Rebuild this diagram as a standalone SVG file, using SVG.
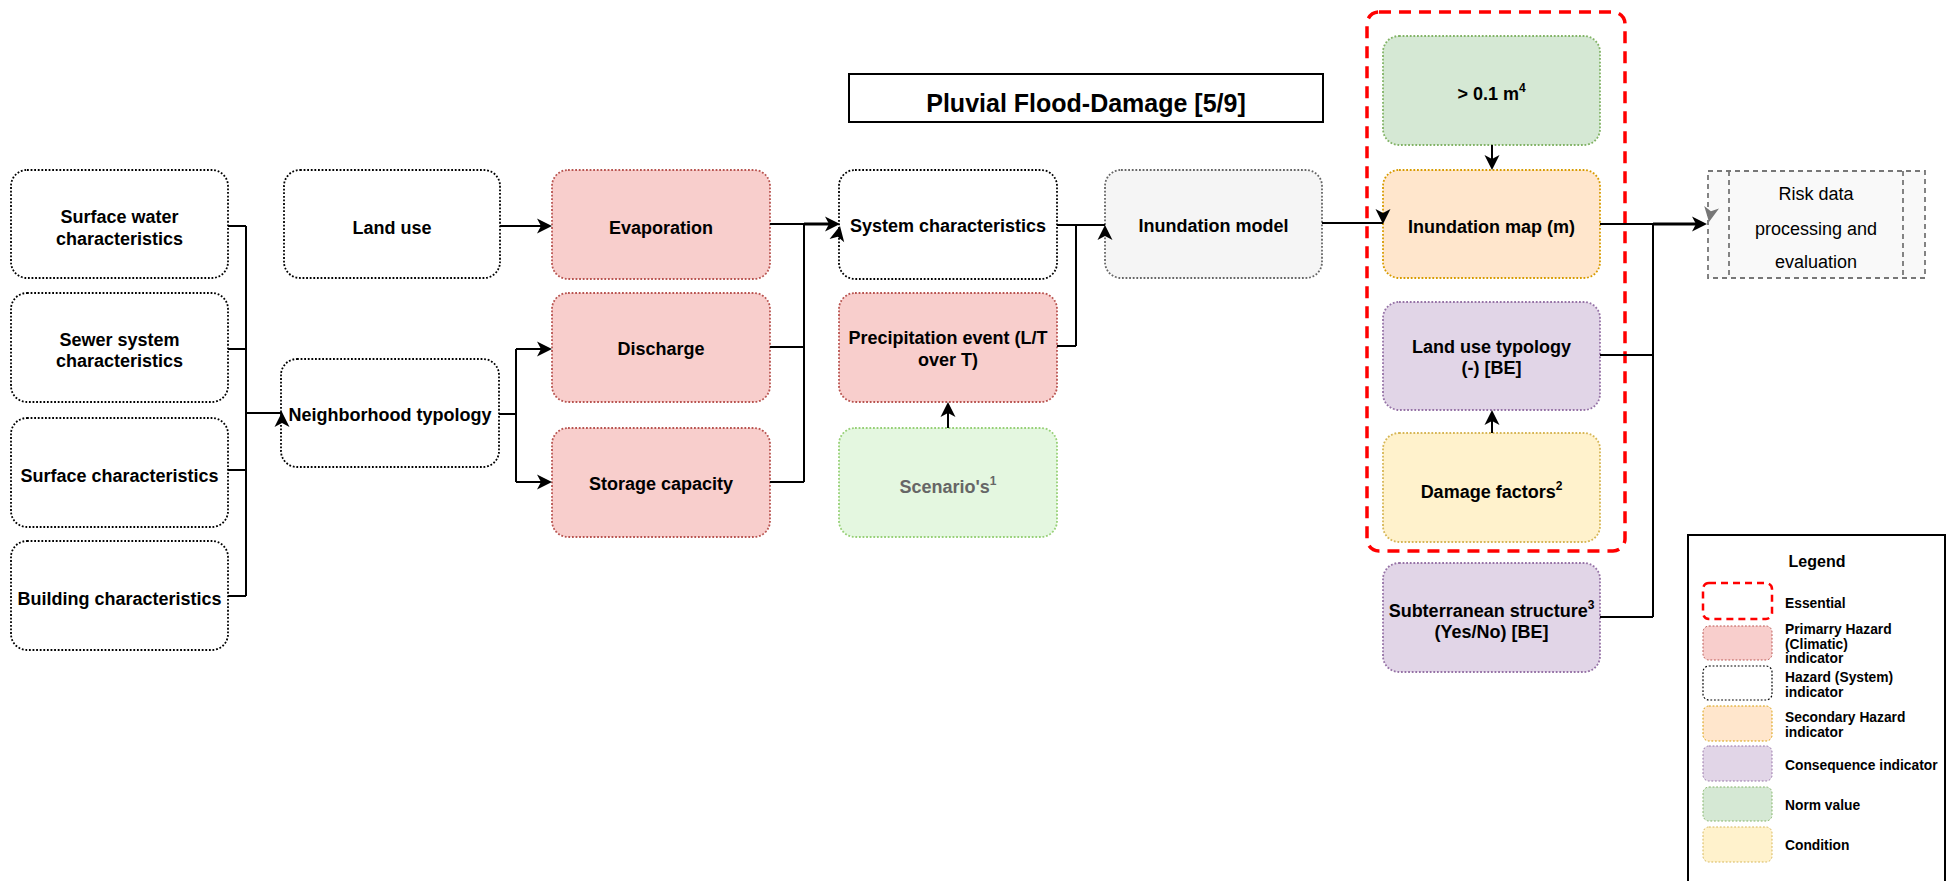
<svg xmlns="http://www.w3.org/2000/svg" width="1956" height="881" viewBox="0 0 1956 881">
  <style>
    text { font-family: "Liberation Sans", Arial, sans-serif; fill: #000; }
    .lbl { font-size: 18px; font-weight: bold; text-anchor: middle; }
    .sup { font-size: 12px; }
    .box { stroke-width: 1.8; stroke-dasharray: 1.8 1.8; }
    .sys { fill: #ffffff; stroke: #000000; }
    .pri { fill: #f8cecc; stroke: #b85450; }
    .sec { fill: #ffe6cc; stroke: #d79b00; }
    .con { fill: #e1d5e7; stroke: #9673a6; }
    .nrm { fill: #d5e8d4; stroke: #82b366; }
    .cnd { fill: #fff2cc; stroke: #d6b656; }
    .mdl { fill: #f5f5f5; stroke: #666666; }
    .scn { fill: #e4f7e0; stroke: #97d077; }
    .edge { fill: none; stroke: #000; stroke-width: 2; }
    .lg { font-size: 13.8px; font-weight: bold; }
  </style>
  <defs>
    <path id="ah" d="M0 0 L-15 -7.5 L-11 0 L-15 7.5 Z"/>
  </defs>

  <!-- title -->
  <g id="title">
    <rect x="849" y="74" width="474" height="48" fill="#fff" stroke="#000" stroke-width="2"/>
    <text x="1086" y="112" style="font-size:25px;font-weight:bold" text-anchor="middle">Pluvial Flood-Damage [5/9]</text>
  </g>

  <!-- essential group outline -->
  <g id="essential">
    <rect x="1367" y="12" width="258" height="539" rx="12" fill="none" stroke="#ff0000" stroke-width="3.5" stroke-dasharray="12 8"/>
  </g>

  <!-- input column -->
  <g id="surface-water">
    <rect class="box sys" x="11" y="170" width="217" height="108" rx="16"/>
    <text class="lbl" x="119.5" y="223">Surface water</text>
    <text class="lbl" x="119.5" y="245">characteristics</text>
  </g>
  <g id="sewer-system">
    <rect class="box sys" x="11" y="293" width="217" height="109" rx="16"/>
    <text class="lbl" x="119.5" y="346">Sewer system</text>
    <text class="lbl" x="119.5" y="367">characteristics</text>
  </g>
  <g id="surface">
    <rect class="box sys" x="11" y="418" width="217" height="109" rx="16"/>
    <text class="lbl" x="119.5" y="482">Surface characteristics</text>
  </g>
  <g id="building">
    <rect class="box sys" x="11" y="541" width="217" height="109" rx="16"/>
    <text class="lbl" x="119.5" y="605">Building characteristics</text>
  </g>

  <g id="land-use">
    <rect class="box sys" x="284" y="170" width="216" height="108" rx="16"/>
    <text class="lbl" x="392" y="234">Land use</text>
  </g>
  <g id="neighborhood">
    <rect class="box sys" x="281" y="359" width="218" height="108" rx="16"/>
    <text class="lbl" x="390" y="421">Neighborhood typology</text>
  </g>

  <g id="evaporation">
    <rect class="box pri" x="552" y="170" width="218" height="109" rx="16"/>
    <text class="lbl" x="661" y="234">Evaporation</text>
  </g>
  <g id="discharge">
    <rect class="box pri" x="552" y="293" width="218" height="109" rx="16"/>
    <text class="lbl" x="661" y="355">Discharge</text>
  </g>
  <g id="storage">
    <rect class="box pri" x="552" y="428" width="218" height="109" rx="16"/>
    <text class="lbl" x="661" y="490">Storage capacity</text>
  </g>

  <g id="system">
    <rect class="box sys" x="839" y="170" width="218" height="109" rx="16"/>
    <text class="lbl" x="948" y="232">System characteristics</text>
  </g>
  <g id="precipitation">
    <rect class="box pri" x="839" y="293" width="218" height="109" rx="16"/>
    <text class="lbl" x="948" y="344">Precipitation event (L/T</text>
    <text class="lbl" x="948" y="366">over T)</text>
  </g>
  <g id="scenarios">
    <rect class="box scn" x="839" y="428" width="218" height="109" rx="16"/>
    <text class="lbl" x="948" y="493" style="fill:#666666">Scenario's<tspan class="sup" dy="-8">1</tspan></text>
  </g>

  <g id="inundation-model">
    <rect class="box mdl" x="1105" y="170" width="217" height="108" rx="16"/>
    <text class="lbl" x="1213.5" y="232">Inundation model</text>
  </g>

  <g id="norm">
    <rect class="box nrm" x="1383" y="36" width="217" height="109" rx="16"/>
    <text class="lbl" x="1491.5" y="100">&gt; 0.1 m<tspan class="sup" dy="-8">4</tspan></text>
  </g>
  <g id="inundation-map">
    <rect class="box sec" x="1383" y="170" width="217" height="108" rx="16"/>
    <text class="lbl" x="1491.5" y="233">Inundation map (m)</text>
  </g>
  <g id="land-use-typology">
    <rect class="box con" x="1383" y="302" width="217" height="108" rx="16"/>
    <text class="lbl" x="1491.5" y="353">Land use typology</text>
    <text class="lbl" x="1491.5" y="374">(-) [BE]</text>
  </g>
  <g id="damage-factors">
    <rect class="box cnd" x="1383" y="433" width="217" height="109" rx="16"/>
    <text class="lbl" x="1491.5" y="498">Damage factors<tspan class="sup" dy="-8">2</tspan></text>
  </g>
  <g id="subterranean">
    <rect class="box con" x="1383" y="563" width="217" height="109" rx="16"/>
    <text class="lbl" x="1491.5" y="617">Subterranean structure<tspan class="sup" dy="-8">3</tspan></text>
    <text class="lbl" x="1491.5" y="638">(Yes/No) [BE]</text>
  </g>

  <g id="risk">
    <rect x="1708" y="171" width="217" height="107" fill="#f9f9f9" stroke="#777" stroke-width="1.8" stroke-dasharray="5 4"/>
    <line x1="1729" y1="171" x2="1729" y2="278" stroke="#777" stroke-width="1.8" stroke-dasharray="5 4"/>
    <line x1="1903" y1="171" x2="1903" y2="278" stroke="#777" stroke-width="1.8" stroke-dasharray="5 4"/>
    <text x="1816" y="200" style="font-size:18px" text-anchor="middle">Risk data</text>
    <text x="1816" y="235" style="font-size:18px" text-anchor="middle">processing and</text>
    <text x="1816" y="268" style="font-size:18px" text-anchor="middle">evaluation</text>
  </g>

  <!-- connectors -->
  <g id="connectors">
    <!-- inputs to neighborhood typology -->
    <path class="edge" d="M228 226 H246 M228 349 H246 M228 470 H246 M228 596 H246 M246 226 V596 M246 413 H282"/>
    <use href="#ah" transform="translate(282 412) rotate(-90)"/>
    <!-- land use to evaporation -->
    <path class="edge" d="M500 226 H544"/>
    <use href="#ah" transform="translate(552 226)"/>
    <!-- neighborhood typology to discharge / storage -->
    <path class="edge" d="M499 414 H516 M516 349 V482 M516 349 H544 M516 482 H544"/>
    <use href="#ah" transform="translate(552 349)"/>
    <use href="#ah" transform="translate(552 482)"/>
    <!-- primary hazards to system characteristics -->
    <path class="edge" d="M770 224 H804 M770 347 H804 M770 482 H804 M804 224 V482"/>
    <path class="edge" style="stroke-width:3" d="M804 224 H830"/>
    <use href="#ah" transform="translate(840 224)"/>
    <use href="#ah" transform="translate(840 226) rotate(-78)"/>
    <!-- scenarios to precipitation -->
    <path class="edge" d="M948 428 V410"/>
    <use href="#ah" transform="translate(948 402) rotate(-90)"/>
    <!-- system + precipitation to inundation model -->
    <path class="edge" d="M1057 225 H1076 M1057 346 H1076 M1076 225 V346 M1076 225 H1105"/>
    <use href="#ah" transform="translate(1105 225) rotate(-90)"/>
    <!-- inundation model to inundation map -->
    <path class="edge" d="M1322 223 H1383"/>
    <use href="#ah" transform="translate(1383 224) rotate(90)"/>
    <!-- norm value to inundation map -->
    <path class="edge" d="M1492 145 V162"/>
    <use href="#ah" transform="translate(1492 170) rotate(90)"/>
    <!-- damage factors to land use typology -->
    <path class="edge" d="M1492 433 V418"/>
    <use href="#ah" transform="translate(1492 410) rotate(-90)"/>
    <!-- consequence side to risk processing -->
    <path class="edge" d="M1600 224 H1653 M1600 355 H1653 M1600 617 H1653 M1653 224 V617"/>
    <path class="edge" style="stroke-width:3" d="M1653 224 H1698"/>
    <use href="#ah" transform="translate(1709 222) rotate(100)" fill="#777"/>
    <use href="#ah" transform="translate(1707 224)"/>
  </g>

  <!-- legend -->
  <g id="legend">
    <rect x="1688" y="535" width="257" height="350" fill="#fff" stroke="#000" stroke-width="2"/>
    <text x="1817" y="567" style="font-size:16px;font-weight:bold" text-anchor="middle">Legend</text>
    <rect x="1703" y="583" width="69" height="36" rx="6" fill="none" stroke="#ff0000" stroke-width="2.5" stroke-dasharray="7 5"/>
    <text class="lg" x="1785" y="608">Essential</text>
    <rect class="box pri" x="1703" y="626" width="69" height="34" rx="6" style="stroke-width:1"/>
    <text class="lg" x="1785" y="634">Primarry Hazard</text>
    <text class="lg" x="1785" y="649">(Climatic)</text>
    <text class="lg" x="1785" y="663">indicator</text>
    <rect class="box sys" x="1703" y="666" width="69" height="34" rx="6" style="stroke-width:1.2"/>
    <text class="lg" x="1785" y="682">Hazard (System)</text>
    <text class="lg" x="1785" y="697">indicator</text>
    <rect class="box sec" x="1703" y="706" width="69" height="35" rx="6" style="stroke-width:1"/>
    <text class="lg" x="1785" y="722">Secondary Hazard</text>
    <text class="lg" x="1785" y="737">indicator</text>
    <rect class="box con" x="1703" y="746" width="69" height="35" rx="6" style="stroke-width:1"/>
    <text class="lg" x="1785" y="770">Consequence indicator</text>
    <rect class="box nrm" x="1703" y="787" width="69" height="34" rx="6" style="stroke-width:1"/>
    <text class="lg" x="1785" y="810">Norm value</text>
    <rect class="box cnd" x="1703" y="827" width="69" height="35" rx="6" style="stroke-width:1"/>
    <text class="lg" x="1785" y="850">Condition</text>
  </g>
</svg>
